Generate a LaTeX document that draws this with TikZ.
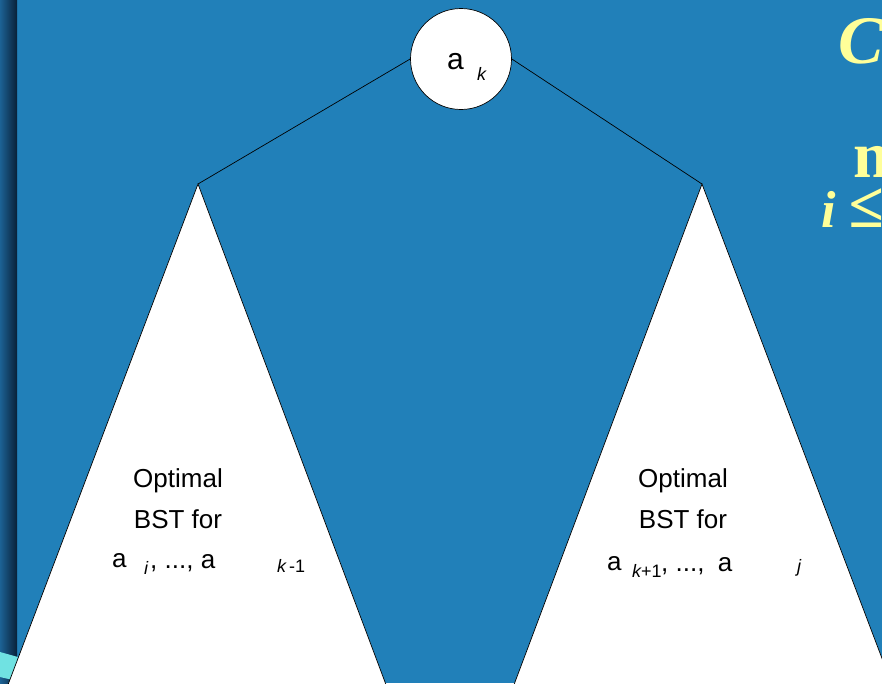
\documentclass[tikz,border=0pt]{standalone}
\usepackage{fontspec}
\setmainfont{Liberation Sans}
\newfontfamily\headfont{Liberation Serif}
\definecolor{slide}{RGB}{33,128,185}
\definecolor{barlight}{RGB}{28,98,148}
\definecolor{bardark}{RGB}{9,32,56}
\definecolor{barcyan}{RGB}{112,226,226}
\definecolor{headyellow}{RGB}{255,255,153}
\tikzset{
  tri/.style={draw=black,fill=white,line width=0.7pt},
  txt/.style={inner sep=0pt,anchor=base,font=\fontsize{26}{30}\selectfont},
  sub/.style={inner sep=0pt,anchor=base west,font=\fontsize{18}{21}\selectfont},
  head/.style={inner sep=0pt,anchor=base west,text=headyellow,
    font=\headfont\bfseries\itshape\fontsize{68}{72}\selectfont}
}
\begin{document}
\begin{tikzpicture}[x=1pt,y=-1pt]
  \useasboundingbox (0,0) rectangle (882,683);
  \clip (0,0) rectangle (882,683);
  \fill[slide] (0,0) rectangle (882,683);
  \shade[left color=barlight,right color=bardark] (0,0) rectangle (17,683);
  \fill[barcyan] (0,652) -- (18,657) -- (13,680) -- (0,677) -- cycle;
  \coordinate (l) at (198,184);
  \coordinate (r) at (702,184);
  \draw[tri] (l) -- (6,690) -- (388,690) -- cycle;
  \draw[tri] (r) -- (512,690) -- (894,690) -- cycle;
  \node[draw=black,fill=white,circle,minimum size=101pt,line width=0.7pt] (root) at (461,59) {};
  \begin{scope}[line width=0.7pt]
    \draw (root.west) to (l);
    \draw (root.east) to (r);
  \end{scope}
  \node[txt,anchor=base west,font=\fontsize{30}{34}\selectfont] (a) at (447,69) {a};
  \node[sub] (k) at (477,80) {\itshape k};
  % left subtree
  \node[txt] (opt1) at (178,487) {Optimal};
  \node[txt] (bst1) at (178,528) {BST for};
  \node[txt,anchor=base west] (a1) at (112,567) {a};
  \node[sub] (i1) at (144,574) {\itshape i};
  \node[txt,anchor=base west] (dots1) at (150,568) {, ..., a};
  \node[sub] (k1) at (277,572) {\itshape k\upshape\,-1};
  % right subtree
  \node[txt] (opt2) at (683,487) {Optimal};
  \node[txt] (bst2) at (683,528) {BST for};
  \node[txt,anchor=base west] (a2) at (607,570) {a};
  \node[sub] (k2) at (632,577) {\itshape k\upshape +1};
  \node[txt,anchor=base west] (dots2) at (661,571) {, ...,\hspace{6pt} a};
  \node[sub] (j2) at (797,572) {\itshape j};
  % heading, cut off at the right edge
  \node[head] (c) at (838,63) {C};
  \node[head,font=\headfont\bfseries\fontsize{66}{72}\selectfont] (m) at (853,177) {m};
  \node[head,font=\headfont\bfseries\itshape\fontsize{52}{56}\selectfont] (le) at (821,227) {i {\fontsize{64}{66}\selectfont ≤}};
\end{tikzpicture}
\end{document}
